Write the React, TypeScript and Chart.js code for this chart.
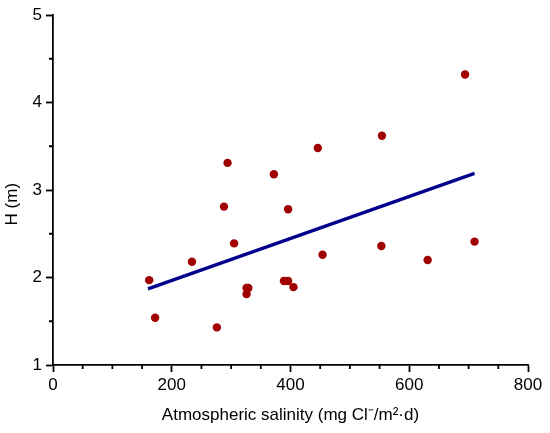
import React, { useEffect, useRef } from "react";
import { Chart, registerables } from "chart.js";

Chart.register(...registerables);

// Measured points: atmospheric salinity (mg Cl-/m2·d) vs H (m)
const salinity = [162, 172, 234, 276, 288, 294, 305, 326, 329, 326, 372, 396, 389, 396, 405, 446, 454, 554, 553, 631, 694, 710];
const heightM = [1.97, 1.54, 2.18, 1.43, 2.81, 3.31, 2.39, 1.88, 1.88, 1.81, 3.18, 2.78, 1.96, 1.96, 1.89, 3.48, 2.26, 3.62, 2.36, 2.2, 4.32, 2.41];

// Linear fit end points
const fitX = [160, 710];
const fitY = [1.87, 3.19];

// Axis ticks
const xMajorTicks = [0, 200, 400, 600, 800];
const xMinorTicks = [50, 100, 150, 250, 300, 350, 450, 500, 550, 650, 700, 750];
const yMajorTicks = [1, 2, 3, 4, 5];
const yMinorTicks = [1.5, 2.5, 3.5, 4.5];

const FONT = "'Liberation Sans', Arial, Helvetica, sans-serif";

const minorTickPlugin = {
  id: "minorTicks",
  afterDraw(chart: any) {
    const { ctx, chartArea, scales } = chart;
    ctx.save();
    ctx.strokeStyle = "#000";
    ctx.lineWidth = 1.8;
    ctx.beginPath();
    for (const v of xMinorTicks) {
      const px = scales.x.getPixelForValue(v);
      ctx.moveTo(px, chartArea.bottom);
      ctx.lineTo(px, chartArea.bottom + 4);
    }
    for (const v of yMinorTicks) {
      const py = scales.y.getPixelForValue(v);
      ctx.moveTo(chartArea.left, py);
      ctx.lineTo(chartArea.left - 4, py);
    }
    ctx.stroke();
    ctx.restore();
  },
};

export default function App() {
  const ref = useRef<HTMLCanvasElement | null>(null);

  useEffect(() => {
    if (!ref.current) return;
    const chart = new Chart(ref.current, {
      type: "scatter",
      data: {
        datasets: [
          {
            type: "line",
            label: "Fit",
            data: fitX.map((x, i) => ({ x, y: fitY[i] })),
            borderColor: "#00008c",
            borderWidth: 3.2,
            pointRadius: 0,
            fill: false,
            order: 2,
          } as any,
          {
            label: "H",
            data: salinity.map((x, i) => ({ x, y: heightM[i] })),
            backgroundColor: "#a00000",
            borderColor: "#a00000",
            borderWidth: 0,
            pointRadius: 4.2,
            order: 1,
          },
        ],
      },
      options: {
        animation: false,
        responsive: false,
        devicePixelRatio: 1,
        layout: { padding: { top: 15, right: 22, bottom: 0, left: 0 } },
        plugins: {
          legend: { display: false },
          tooltip: { enabled: false },
        },
        scales: {
          x: {
            type: "linear",
            min: 0,
            max: 800,
            afterFit: (s: any) => {
              s.height = 68;
            },
            afterBuildTicks: (s: any) => {
              s.ticks = xMajorTicks.map((v) => ({ value: v }));
            },
            grid: {
              display: true,
              drawOnChartArea: false,
              drawTicks: true,
              tickLength: 7,
              tickWidth: 1.8,
              tickColor: "#000",
            },
            border: { display: true, color: "#000", width: 1.8 },
            ticks: {
              padding: 3,
              color: "#000",
              font: { family: FONT, size: 17 },
              maxRotation: 0,
              autoSkip: false,
            },
            title: {
              display: true,
              text: "Atmospheric salinity (mg Cl\u207B/m\u00B2\u00B7d)",
              color: "#000",
              font: { family: FONT, size: 17 },
              padding: { top: 0, bottom: 7 },
            },
          },
          y: {
            type: "linear",
            min: 1,
            max: 5,
            afterFit: (s: any) => {
              s.width = 53;
            },
            afterBuildTicks: (s: any) => {
              s.ticks = yMajorTicks.map((v) => ({ value: v }));
            },
            grid: {
              display: true,
              drawOnChartArea: false,
              drawTicks: true,
              tickLength: 7,
              tickWidth: 1.8,
              tickColor: "#000",
            },
            border: { display: true, color: "#000", width: 1.8 },
            ticks: {
              padding: 4,
              color: "#000",
              font: { family: FONT, size: 17 },
              autoSkip: false,
            },
            title: {
              display: true,
              text: "H (m)\u00A0\u00A0\u00A0\u00A0\u00A0\u00A0",
              color: "#000",
              font: { family: FONT, size: 17 },
              padding: { top: 2, bottom: 0 },
            },
          },
        },
      },
      plugins: [minorTickPlugin],
    });
    return () => chart.destroy();
  }, []);

  return (
    <div style={{ position: "absolute", left: 0, top: 0, width: 550, height: 433, background: "#fff" }}>
      <canvas ref={ref} width={550} height={433} style={{ width: 550, height: 433, display: "block" }} />
    </div>
  );
}
